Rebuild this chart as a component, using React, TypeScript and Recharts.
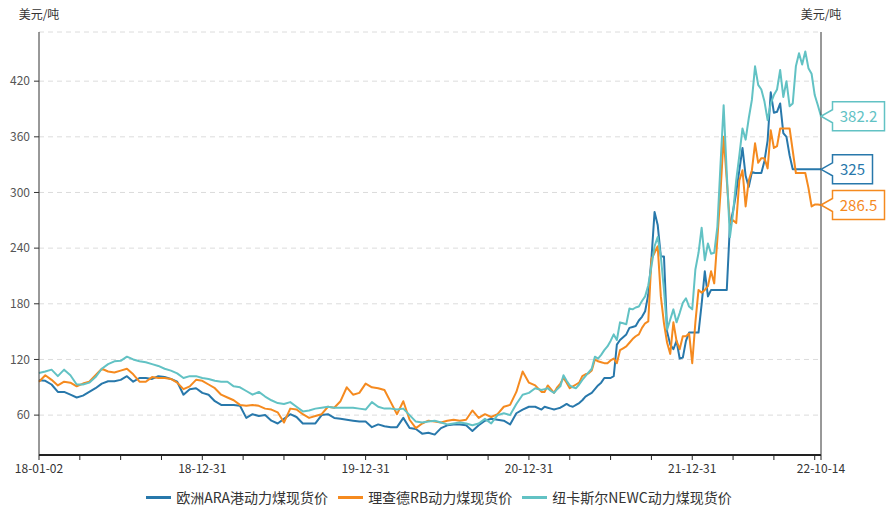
import { CartesianGrid, LabelList, Legend, Line, LineChart, XAxis, YAxis } from "recharts";

// week number counted from 18-01-02 (two-week steps up to week 160, weekly after that)
const weekIndex = [
  0, 2, 4, 6, 8, 10, 12, 14, 16, 18,
  20, 22, 24, 26, 28, 30, 32, 34, 36, 38,
  40, 42, 44, 46, 48, 50, 52, 54, 56, 58,
  60, 62, 64, 66, 68, 70, 72, 74, 76, 78,
  80, 82, 84, 86, 88, 90, 92, 94, 96, 98,
  100, 102, 104, 106, 108, 110, 112, 114, 116, 118,
  120, 122, 124, 126, 128, 130, 132, 134, 136, 138,
  140, 142, 144, 146, 148, 150, 152, 154, 156, 158,
  160,
  161, 162, 163, 164, 165, 166, 167, 168, 169, 170,
  171, 172, 173, 174, 175, 176, 177, 178, 179, 180,
  181, 182, 183, 184, 185, 186, 187, 188, 189, 190,
  191, 192, 193, 194, 195, 196, 197, 198, 199, 200,
  201, 202, 203, 204, 205, 206, 207, 208, 209, 210,
  211, 212, 213, 214, 215, 216, 217, 218, 219, 220,
  221, 222, 223, 224, 225, 226, 227, 228, 229, 230,
  231, 232, 233, 234, 235, 236, 237, 238, 239, 240,
  241, 242, 243, 244, 245, 246, 247, 248, 249,
];

const araPrice = [
  97.5, 97, 93, 85, 85, 82, 79, 81, 85, 89,
  94, 96.5, 96.5, 98, 102, 96, 100, 100, 99, 102,
  101, 99, 96, 82, 88, 89, 84, 82, 75, 71,
  71, 71, 70, 57, 61, 59, 60, 54, 51, 56,
  61, 58, 51, 51, 51, 60, 61, 57, 56, 55,
  54, 53, 53, 47, 50, 48, 47, 47, 57, 46,
  45, 40, 41, 39, 46, 49, 50, 50, 49, 43,
  49, 54, 56, 55, 54, 50, 62, 66, 69, 69,
  66,
  69, 68, 67, 66, 67, 68, 70, 72, 70, 69,
  71, 73, 76, 80, 82, 84, 88, 92, 95, 100,
  100, 100, 102, 136, 141, 144, 147, 154, 155, 156,
  162, 166, 172, 190, 228, 279, 265, 231, 231, 150,
  136, 131, 140, 121, 122, 140, 149, 149, 149, 149,
  180, 215, 188, 195, 195, 195, 195, 195, 195, 265,
  280, 300, 324, 348, 318, 306, 322, 321, 321, 321,
  334, 356, 408, 386, 387, 396, 364, 360, 340, 325,
  325, 325, 325, 325, 325, 325, 325, 325, 325,
];

const rbPrice = [
  96, 103, 98, 92, 96, 95, 91, 94, 96, 103,
  110, 107, 106, 108, 110, 104, 96, 96, 101, 100,
  100, 99, 95, 88, 91, 98, 97, 93, 89, 82,
  79, 76, 71, 70, 71, 70, 67, 66, 63, 52,
  67, 66, 61, 57, 59, 61, 69, 68, 75, 90,
  82, 84, 94, 90, 89, 87, 74, 61, 75, 55,
  46, 51, 54, 53, 52, 54, 55, 54, 55, 65,
  57, 61, 58, 61, 69, 71, 85, 107, 95, 92,
  85,
  85, 92, 88, 84, 90, 94, 100, 95, 89, 91,
  93, 95, 102, 104, 105, 108, 120, 118, 117, 116,
  116, 119, 121, 116, 130, 132, 134, 138, 142, 145,
  147, 154, 159, 161, 228, 235, 242, 188, 159, 138,
  126, 160, 140, 131, 145, 145, 148, 116, 160, 195,
  192, 195, 199, 215, 202, 250, 300, 360, 313, 267,
  270, 267, 313, 324, 285, 313, 324, 353, 332, 337,
  337, 326, 367, 348, 350, 369, 369, 369, 369, 345,
  321, 321, 321, 321, 305, 285, 287, 287, 286.5,
];

const newcPrice = [
  105.5, 107, 109, 102, 109, 103, 93, 93, 95, 101,
  110, 115, 118, 118.5, 123, 120, 118, 117, 115, 113,
  110, 108, 105, 100, 102, 102, 100, 99, 97, 96,
  96, 91, 90, 86, 82, 85, 80, 76, 73, 72,
  74, 69, 64, 65, 67, 68, 69, 68, 68, 68,
  68, 67, 66, 74, 69, 67, 67, 66, 67, 60,
  53, 52, 53, 54, 52, 50, 51, 52, 51, 49,
  51, 56, 51, 60, 62, 60, 72, 82, 84, 89,
  87,
  88, 89, 86, 84, 88, 91, 103, 97, 92, 90,
  89, 93, 98, 102, 106, 110, 123, 121, 125, 130,
  134, 140, 147, 141, 160, 159, 158, 175, 174, 176,
  177, 183, 188, 200, 220, 242, 252, 231, 195, 152,
  163, 174, 160, 170, 181, 186, 177, 174, 217, 235,
  262, 227, 245, 234, 235, 263, 330, 394, 320, 252,
  278, 313, 340, 369, 357, 380, 400, 436, 416, 411,
  398, 378, 396, 405, 411, 432, 403, 420, 393, 396,
  436, 450, 438, 452, 434, 428, 405, 394, 382.2,
];

const xTicks = [0, 13, 26, 39, 52, 65, 78, 91, 104, 117, 130, 143, 156, 169, 182, 195, 208, 221, 234, 247, 249];
const xTickLabels: Record<number, string> = {
  0: "18-01-02",
  52: "18-12-31",
  104: "19-12-31",
  156: "20-12-31",
  208: "21-12-31",
  249: "22-10-14",
};
const yTicks = [60, 120, 180, 240, 300, 360, 420];
const unit = "美元/吨";

const series = [
  { key: "ara", name: "欧洲ARA港动力煤现货价", color: "#2878ab" },
  { key: "rb", name: "理查德RB动力煤现货价", color: "#f58a1f" },
  { key: "newc", name: "纽卡斯尔NEWC动力煤现货价", color: "#62c2c4" },
];

const rows = weekIndex.map((week, k) => ({
  week,
  ara: araPrice[k],
  rb: rbPrice[k],
  newc: newcPrice[k],
}));

const lastWeek = weekIndex.length - 1;
const font = "'Noto Sans CJK SC', 'Microsoft YaHei', sans-serif";

function endLabel(color: string) {
  return (props: any) => {
    const { x, y, value, index } = props;
    if (index !== lastWeek || x == null || y == null) return null;
    const text = String(value);
    const w = text.length * 6 + 22;
    const bx = x + 11.5;
    const h = 29;
    const top = y - h / 2;
    const d = `M${x},${y} L${bx},${y - 6.5} L${bx},${top} L${bx + w},${top} L${bx + w},${top + h} L${bx},${top + h} L${bx},${y + 6.5} Z`;
    return (
      <g>
        <path d={d} fill="#fff" stroke={color} strokeWidth={1.5} />
        <text x={bx + w / 2} y={y + 5.5} textAnchor="middle" fontSize={15} fill={color}>
          {text}
        </text>
      </g>
    );
  };
}

function unitLabel(side: "left" | "right") {
  return (props: any) => {
    const vb = props.viewBox || {};
    const x = side === "left" ? (vb.x ?? 0) + (vb.width ?? 39) : vb.x ?? 821;
    const y = (vb.y ?? 32) - 13;
    return (
      <text x={x} y={y} textAnchor="middle" fontSize={12} fill="#333">
        {unit}
      </text>
    );
  };
}

function LegendRow({ payload }: any) {
  const items = payload && payload.length ? payload : series.map((s) => ({ value: s.name, color: s.color }));
  return (
    <div
      style={{
        display: "flex",
        justifyContent: "center",
        alignItems: "center",
        height: 30,
        paddingTop: 8,
        boxSizing: "border-box",
        fontSize: 14,
        color: "#333",
      }}
    >
      {items.map((item: any, i: number) => (
        <div
          key={item.value}
          style={{ display: "flex", alignItems: "center", marginLeft: i === 0 ? 0 : 10 }}
        >
          <span style={{ display: "inline-block", width: 25, height: 3, background: item.color, marginRight: 5 }} />
          <span>{item.value}</span>
        </div>
      ))}
    </div>
  );
}

export default function App() {
  return (
    <div style={{ position: "absolute", left: 0, top: 0, fontFamily: font, background: "#fff" }}>
      <LineChart width={886} height={508} data={rows} margin={{ top: 32, right: 0, bottom: 0, left: 0 }}>
        <CartesianGrid yAxisId="left" vertical={false} stroke="#dcdcdc" strokeDasharray="5 4" />
        <XAxis
          dataKey="week"
          type="number"
          domain={[0, 249]}
          ticks={xTicks}
          interval={0}
          height={23}
          tickFormatter={(v) => xTickLabels[v] ?? ""}
          axisLine={{ stroke: "#222", strokeWidth: 2 }}
          tickLine={{ stroke: "#222" }}
          tickSize={5}
          tickMargin={4}
          tick={{ fontSize: 12, fill: "#333" }}
        />
        <YAxis
          yAxisId="left"
          domain={[17, 473]}
          ticks={yTicks}
          width={39}
          axisLine={{ stroke: "#333" }}
          tickLine={{ stroke: "#333" }}
          tickSize={5}
          tickMargin={4}
          tick={{ fontSize: 12, fill: "#555" }}
          label={{ value: unit, content: unitLabel("left") }}
        />
        <YAxis
          yAxisId="right"
          orientation="right"
          domain={[17, 473]}
          ticks={yTicks}
          width={65}
          axisLine={{ stroke: "#333" }}
          tickLine={{ stroke: "#333" }}
          tickSize={5}
          tickMargin={2}
          tick={{ fontSize: 12, fill: "#555", textAnchor: "start" }}
          label={{ value: unit, content: unitLabel("right") }}
        />
        {series.map((s) => (
          <Line
            key={s.key}
            yAxisId="left"
            dataKey={s.key}
            name={s.name}
            type="linear"
            stroke={s.color}
            strokeWidth={2}
            strokeLinejoin="round"
            dot={false}
            activeDot={false}
            isAnimationActive={false}
          >
            <LabelList dataKey={s.key} content={endLabel(s.color)} />
          </Line>
        ))}
        <Legend
          verticalAlign="bottom"
          height={30}
          wrapperStyle={{ left: 0, width: 878, bottom: 0, height: 30 }}
          content={<LegendRow />}
        />
      </LineChart>
    </div>
  );
}
